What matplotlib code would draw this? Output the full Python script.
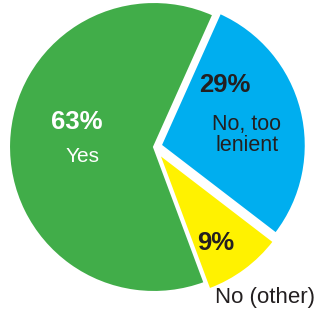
import matplotlib.pyplot as plt

plt.rcParams['font.family'] = ['Liberation Sans Narrow', 'Liberation Sans', 'DejaVu Sans']

labels = ["No, too lenient", "Yes", "No (other)"]
values = [29, 63, 9]
colors = ["#00AEEF", "#41AD49", "#FFF200"]
# pie() offsets in data units, here pixels
explode = [7, 0, 8]

fig = plt.figure(figsize=(3.14, 3.13), dpi=100)
ax = fig.add_axes([0, 0, 1, 1])
ax.pie(values, colors=colors, explode=explode, startangle=-37.5,
       center=(154, 166), radius=145,
       wedgeprops=dict(edgecolor="white", linewidth=1.5))
ax.set_xlim(0, 314)
ax.set_ylim(0, 313)
ax.set_aspect("equal")
ax.axis("off")

dark = "#231F20"
# percentages
ax.text(77, 313 - 122, "63%", color="white", fontsize=18.5, fontweight="bold", ha="center", va="center")
ax.text(225, 313 - 85, "29%", color=dark, fontsize=18.5, fontweight="bold", ha="center", va="center")
ax.text(216, 313 - 243, "9%", color=dark, fontsize=18.5, fontweight="bold", ha="center", va="center")
# labels
ax.text(83, 313 - 157, labels[1], color="white", fontsize=15, ha="center", va="center")
ax.text(247, 313 - 135, "No, too\nlenient", color=dark, fontsize=15.5, ha="center", va="center",
        linespacing=1.05)
ax.text(265, 313 - 297, labels[2], color=dark, fontsize=16, ha="center", va="center")

fig.savefig("out.png", dpi=100)
